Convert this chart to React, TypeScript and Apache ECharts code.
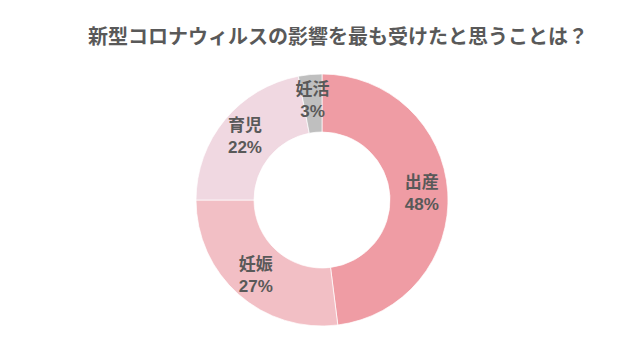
import React, { useEffect, useRef } from "react";
import * as echarts from "echarts";

const titleText = "新型コロナウィルスの影響を最も受けたと思うことは？";
const categories = ["出産", "妊娠", "育児", "妊活"];
const values = [48, 27, 22, 3];
const colors = ["#ef9ca4", "#f2bfc5", "#f0d8e1", "#bfbfbf"];

export default function App() {
  const ref = useRef<HTMLDivElement>(null);
  useEffect(() => {
    if (!ref.current) return;
    const chart = echarts.init(ref.current, null, { renderer: "svg" });
    chart.setOption({
      animation: false,
      backgroundColor: "#ffffff",
      title: {
        text: titleText,
        left: 333,
        top: 22,
        textAlign: "center",
        textStyle: {
          fontFamily: "'Liberation Sans', 'Noto Sans CJK JP'",
          fontSize: 20,
          fontWeight: "bold",
          color: "#595959",
        },
      },
      series: [
        {
          type: "pie",
          center: [322, 200],
          radius: [68, 126],
          startAngle: 90,
          clockwise: true,
          data: categories.map((c, i) => ({
            name: c,
            value: values[i],
            itemStyle: { color: colors[i] },
          })),
          itemStyle: { borderColor: "#ffffff", borderWidth: 0.7 },
          label: {
            show: true,
            position: "inside",
            formatter: (p: any) => `${p.name}\n${p.value}%`,
            fontFamily: "'Liberation Sans', 'Noto Sans CJK JP'",
            fontSize: 17,
            fontWeight: "bold",
            lineHeight: 22,
            color: "#595959",
          },
          labelLine: { show: false },
          emphasis: { disabled: true },
        },
      ],
    });
    return () => chart.dispose();
  }, []);
  return <div ref={ref} style={{ width: 640, height: 353, position: "absolute", left: 0, top: 0 }} />;
}
